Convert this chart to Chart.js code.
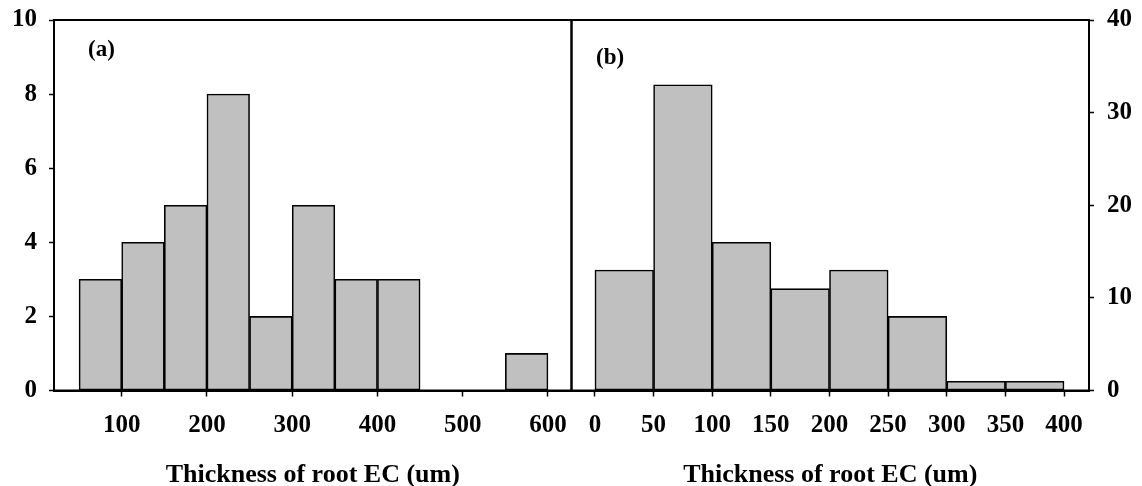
<!DOCTYPE html>
<html>
<head>
<meta charset="utf-8">
<title>Thickness of root EC histograms</title>
<script src="https://cdn.jsdelivr.net/npm/chart.js@4.4.1/dist/chart.umd.min.js"></script>
<style>
  html, body { margin: 0; padding: 0; background: #fff; }
  #wrap { position: relative; width: 1142px; height: 486px; overflow: hidden; }
  .pane { position: absolute; top: 0; height: 496px; }
  #pane-a { left: 0; width: 600px; }
  #pane-b { left: 560px; width: 582px; }
  .tag { position: absolute; font: bold 23px/23px "Liberation Serif", "Times New Roman", serif; color: #000; }
</style>
</head>
<body>
<div id="wrap">
  <div class="pane" id="pane-a"><canvas id="chart-a"></canvas></div>
  <div class="pane" id="pane-b"><canvas id="chart-b"></canvas></div>
  <div class="tag" style="left:88px;top:37px">(a)</div>
  <div class="tag" style="left:596px;top:45px">(b)</div>
</div>
<script>
// panel (a): bin start (um) and counts
const binsA = [50, 100, 150, 200, 250, 300, 350, 400, 450, 500, 550];
const countsA = [3, 4, 5, 8, 2, 5, 3, 3, 0, 0, 1];
const xTicksA = [100, 200, 300, 400, 500, 600];
const yTicksA = [0, 2, 4, 6, 8, 10];

// panel (b)
const binsB = [0, 50, 100, 150, 200, 250, 300, 350];
const countsB = [13, 33, 16, 11, 13, 8, 1, 1];
const xTicksB = [0, 50, 100, 150, 200, 250, 300, 350, 400];
const yTicksB = [0, 10, 20, 30, 40];

const binWidth = 50;
const axisTitle = "Thickness of root EC (um)";
const serif = '"Liberation Serif", "Times New Roman", serif';

Chart.defaults.font.family = serif;
Chart.defaults.color = "#000";

// border round the plot area
const framePlugin = {
  id: "frame",
  afterDatasetsDraw(chart) {
    const { ctx, chartArea: a } = chart;
    ctx.save();
    ctx.strokeStyle = "#000";
    ctx.lineWidth = 2;
    ctx.strokeRect(a.left, a.top, a.right - a.left, a.bottom - a.top);
    ctx.restore();
  },
};

function fixTicks(list) {
  return (scale) => {
    scale.ticks = list.map((v) => ({ value: v }));
  };
}

// fixed axis sizes; labels may overhang the plot area without pushing it
function fixSize(key, size) {
  return (s) => {
    s[key] = size;
    s.paddingTop = s.paddingBottom = s.paddingLeft = s.paddingRight = 0;
  };
}

function makeChart(el, opts) {
  const data = opts.bins.map((b, i) => ({ x: b + binWidth / 2, y: opts.counts[i] }));
  return new Chart(el, {
    type: "bar",
    data: {
      datasets: [{
        data,
        backgroundColor: "#c0c0c0",
        borderColor: "#000",
        borderWidth: 1.6,
        borderSkipped: false,
        barPercentage: 1,
        categoryPercentage: 1,
      }],
    },
    options: {
      responsive: true,
      maintainAspectRatio: false,
      animation: false,
      layout: { padding: opts.padding },
      plugins: { legend: { display: false }, tooltip: { enabled: false } },
      scales: {
        x: {
          type: "linear",
          offset: false,
          min: opts.xMin,
          max: opts.xMax,
          afterBuildTicks: fixTicks(opts.xTicks),
          afterFit: fixSize("height", 105.5),
          grid: { drawOnChartArea: false, drawTicks: true, tickLength: 6, tickColor: "#000", tickWidth: 1.5, offset: false },
          border: { display: true, color: "#000", width: 2 },
          ticks: { font: { size: 25, weight: "bold" }, padding: 14, maxRotation: 0, autoSkip: false },
          title: { display: true, text: axisTitle, font: { size: 26, weight: "bold" }, padding: { top: 0, bottom: 5 } },
        },
        y: {
          position: opts.yPos,
          min: 0,
          max: opts.yMax,
          afterBuildTicks: fixTicks(opts.yTicks),
          afterFit: fixSize("width", opts.yWidth),
          grid: { drawOnChartArea: false, drawTicks: true, tickLength: 5, tickColor: "#000", tickWidth: 1.5 },
          border: { display: true, color: "#000", width: 2 },
          ticks: { font: { size: 25, weight: "bold" }, padding: opts.yPad },
        },
      },
    },
    plugins: [framePlugin],
  });
}

makeChart(document.getElementById("chart-a"), {
  bins: binsA, counts: countsA, xTicks: xTicksA, yTicks: yTicksA,
  xMin: 20.6, xMax: 627.6, yMax: 10, yPos: "left", yWidth: 54, yPad: 12,
  padding: { top: 20, right: 28.5, left: 0, bottom: 0 },
});

makeChart(document.getElementById("chart-b"), {
  bins: binsB, counts: countsB, xTicks: xTicksB, yTicks: yTicksB,
  xMin: -20, xMax: 421.3, yMax: 40, yPos: "right", yWidth: 53, yPad: 13,
  padding: { top: 20, right: 0, left: 11.5, bottom: 0 },
});
</script>
</body>
</html>
